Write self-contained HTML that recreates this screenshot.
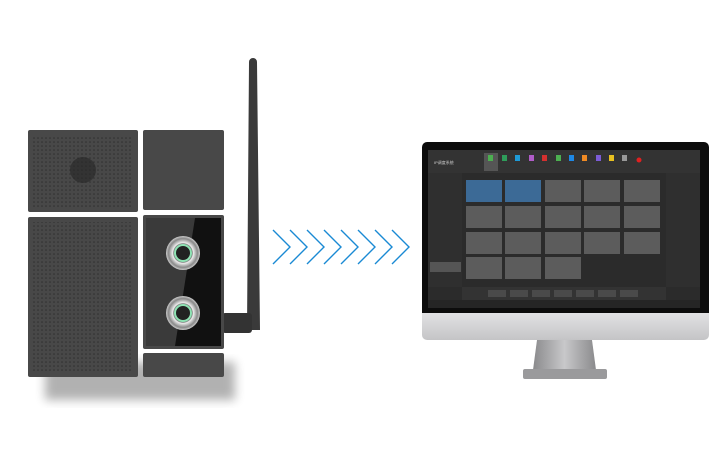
<!DOCTYPE html>
<html><head><meta charset="utf-8"><style>
html,body{margin:0;padding:0;background:#fff;width:714px;height:476px;overflow:hidden}
svg{display:block}
text{font-family:"Liberation Sans","Noto Sans CJK SC",sans-serif}
</style></head><body>
<svg width="714" height="476" viewBox="0 0 714 476">
<defs>
<pattern id="dots" width="4" height="4" patternUnits="userSpaceOnUse"><circle cx="2" cy="2" r="0.8" fill="#2e2e2e"/></pattern>
<linearGradient id="chin" x1="0" y1="0" x2="0" y2="1"><stop offset="0" stop-color="#e2e2e4"/><stop offset="1" stop-color="#c4c4c6"/></linearGradient>
<linearGradient id="neck" x1="0" y1="0" x2="1" y2="0"><stop offset="0" stop-color="#8a8a8c"/><stop offset="0.5" stop-color="#c8c8ca"/><stop offset="1" stop-color="#8a8a8c"/></linearGradient>
<radialGradient id="btn"><stop offset="0.5" stop-color="#222"/><stop offset="0.6" stop-color="#eee"/><stop offset="0.85" stop-color="#888"/><stop offset="1" stop-color="#ccc"/></radialGradient>
<filter id="sh" x="-20%" y="-20%" width="140%" height="140%"><feGaussianBlur stdDeviation="5"/></filter>
</defs>
<rect x="45" y="362" width="190" height="38" fill="#000" opacity="0.3" filter="url(#sh)"/>
<!-- antenna -->
<path d="M249,62 a4,4 0 0 1 8,0 L260,330 h-13 z" fill="#3a3a3a"/>
<rect x="222" y="313" width="30" height="20" rx="3" fill="#333"/>
<g fill="#484848">
<rect x="28" y="130" width="110" height="82" rx="2"/>
<rect x="143" y="130" width="81" height="80" rx="2"/>
<rect x="28" y="217" width="110" height="160" rx="2"/>
<rect x="143" y="215" width="81" height="134" rx="2"/>
<rect x="143" y="353" width="81" height="24" rx="2"/>
</g>
<rect x="33" y="135" width="100" height="72" fill="url(#dots)"/>
<rect x="33" y="222" width="100" height="150" fill="url(#dots)"/>
<circle cx="83" cy="170" r="13" fill="#262626" opacity="0.6"/>
<rect x="146" y="218" width="75" height="128" fill="#111"/>
<polygon points="146,218 195,218 175,346 146,346" fill="#3a3a3a"/>
<circle cx="183" cy="253" r="17" fill="url(#btn)"/>
<circle cx="183" cy="253" r="8" fill="none" stroke="#8fe3b4" stroke-width="2"/>
<circle cx="183" cy="313" r="17" fill="url(#btn)"/>
<circle cx="183" cy="313" r="8" fill="none" stroke="#8fe3b4" stroke-width="2"/>
<g fill="none" stroke="#1a8ad4" stroke-width="1.4">
<polyline points="273,230 290,247 273,264"/><polyline points="290,230 307,247 290,264"/>
<polyline points="307,230 324,247 307,264"/><polyline points="324,230 341,247 324,264"/>
<polyline points="341,230 358,247 341,264"/><polyline points="358,230 375,247 358,264"/>
<polyline points="375,230 392,247 375,264"/><polyline points="392,230 409,247 392,264"/>
</g>
<rect x="422" y="142" width="287" height="180" rx="5" fill="#0c0c0c"/>
<path d="M422,313 h287 v22 a5,5 0 0 1 -5,5 h-277 a5,5 0 0 1 -5,-5z" fill="url(#chin)"/>
<polygon points="537,340 592,340 596,370 533,370" fill="url(#neck)"/>
<rect x="523" y="369" width="84" height="10" rx="2" fill="#9a9a9c"/>
<rect x="428" y="150" width="272" height="158" fill="#2b2b2b"/>
<rect x="428" y="150" width="272" height="23" fill="#333"/>
<text x="434" y="164" font-size="4" fill="#ccc">IP调度系统</text>
<g>
<rect x="484" y="153" width="14" height="18" fill="#555"/>
<rect x="488" y="155" width="5" height="6" fill="#4caf50"/><rect x="502" y="155" width="5" height="6" fill="#2e9d5a"/>
<rect x="515" y="155" width="5" height="6" fill="#1e9ad6"/><rect x="529" y="155" width="5" height="6" fill="#b05cc8"/>
<rect x="542" y="155" width="5" height="6" fill="#d3302f"/><rect x="556" y="155" width="5" height="6" fill="#4caf50"/>
<rect x="569" y="155" width="5" height="6" fill="#1e88e5"/><rect x="582" y="155" width="5" height="6" fill="#f08a24"/>
<rect x="596" y="155" width="5" height="6" fill="#7c5cd6"/><rect x="609" y="155" width="5" height="6" fill="#e8c020"/>
<rect x="622" y="155" width="5" height="6" fill="#999"/><circle cx="639" cy="160" r="2.5" fill="#e02020"/>
</g>
<rect x="428" y="173" width="34" height="114" fill="#2f2f2f"/>
<rect x="430" y="262" width="31" height="10" fill="#555"/>
<rect x="666" y="173" width="34" height="114" fill="#2f2f2f"/>
<g fill="#5c5c5c">
<rect x="466" y="180" width="36" height="22" fill="#3c6a96"/><rect x="505" y="180" width="36" height="22" fill="#3c6a96"/>
<rect x="545" y="180" width="36" height="22"/><rect x="584" y="180" width="36" height="22"/><rect x="624" y="180" width="36" height="22"/>
<rect x="466" y="206" width="36" height="22"/><rect x="505" y="206" width="36" height="22"/><rect x="545" y="206" width="36" height="22"/><rect x="584" y="206" width="36" height="22"/><rect x="624" y="206" width="36" height="22"/>
<rect x="466" y="232" width="36" height="22"/><rect x="505" y="232" width="36" height="22"/><rect x="545" y="232" width="36" height="22"/><rect x="584" y="232" width="36" height="22"/><rect x="624" y="232" width="36" height="22"/>
<rect x="466" y="257" width="36" height="22"/><rect x="505" y="257" width="36" height="22"/><rect x="545" y="257" width="36" height="22"/>
</g>
<rect x="462" y="287" width="204" height="13" fill="#333"/>
<g fill="#4a4a4a"><rect x="488" y="290" width="18" height="7"/><rect x="510" y="290" width="18" height="7"/><rect x="532" y="290" width="18" height="7"/><rect x="554" y="290" width="18" height="7"/><rect x="576" y="290" width="18" height="7"/><rect x="598" y="290" width="18" height="7"/><rect x="620" y="290" width="18" height="7"/></g>
<rect x="428" y="300" width="272" height="8" fill="#252525"/>
</svg>
</body></html>
